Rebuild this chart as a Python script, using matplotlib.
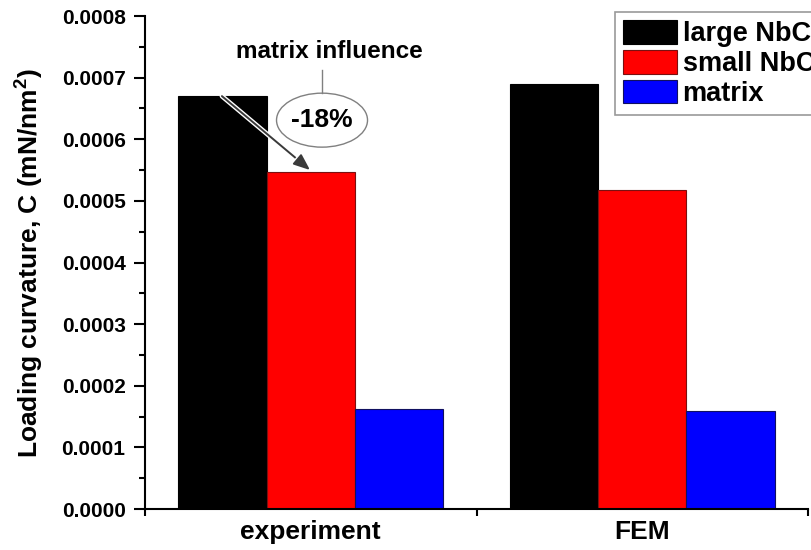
import matplotlib
matplotlib.use("Agg")
import matplotlib.pyplot as plt
import matplotlib.patheffects as pe
from matplotlib.patches import Ellipse
import numpy as np

plt.rcParams['font.family'] = ['Liberation Sans', 'DejaVu Sans']
plt.rcParams['font.weight'] = 'bold'
plt.rcParams['mathtext.fontset'] = 'custom'
plt.rcParams['mathtext.rm'] = 'Liberation Sans:bold'
plt.rcParams['mathtext.bf'] = 'Liberation Sans:bold'

# Data
categories = ['experiment', 'FEM']
series_names = ['large NbC', 'small NbC', 'matrix']
large_nbc = [0.000670, 0.000690]
small_nbc = [0.000547, 0.000517]
matrix_vals = [0.000162, 0.000159]
y_ticks = [0.0000, 0.0001, 0.0002, 0.0003, 0.0004, 0.0005, 0.0006, 0.0007, 0.0008]
change_label = '-18%'

series = [large_nbc, small_nbc, matrix_vals]
faces = ['#000000', '#ff0000', '#0000ff']
edges = ['#000000', '#7a1010', '#101060']

fig = plt.figure(figsize=(8.11, 5.50), dpi=100)
ax = fig.add_axes([0.1788, 0.0745, 0.8175, 0.8964])

x = np.arange(1, len(categories) + 1)
width = 0.8 / 3
for i, (vals, fc, ec, name) in enumerate(zip(series, faces, edges, series_names)):
    ax.bar(x + (i - 1) * width, vals, width, color=fc, edgecolor=ec,
           linewidth=0.8, label=name, zorder=2)

ax.set_xlim(0.5, 2.5)
ax.set_ylim(0, 0.0008)

# Axes styling
for s in ['top', 'right']:
    ax.spines[s].set_visible(False)
for s in ['left', 'bottom']:
    ax.spines[s].set_linewidth(1.5)

ax.set_yticks(y_ticks)
ax.set_yticklabels([f'{v:.4f}' for v in y_ticks])
ax.yaxis.set_minor_locator(matplotlib.ticker.MultipleLocator(0.00005))
ax.tick_params(axis='y', which='major', direction='out', length=8, width=1.5,
               labelsize=15, pad=6)
ax.tick_params(axis='y', which='minor', direction='out', length=4, width=1.5)

ax.set_xticks(x)
ax.set_xticklabels(categories)
ax.set_xticks([0.5, 1.5, 2.5], minor=True)
ax.tick_params(axis='x', which='major', length=0, labelsize=19, pad=8)
ax.tick_params(axis='x', which='minor', direction='out', length=5, width=1.5)

ax.set_ylabel('Loading curvature, C (mN/nm$^\\mathbf{2}$)', fontsize=19,
              fontweight='bold')
ax.yaxis.set_label_coords(-0.151, 0.5)

# Legend (its frame runs past the right edge)
leg = ax.legend(loc='upper left', bbox_to_anchor=(0.709, 1.008), fontsize=19.5,
                frameon=True, fancybox=False, borderaxespad=0,
                handlelength=2.0, handleheight=0.96, handletextpad=0.19,
                labelspacing=0.1, borderpad=0.3)
leg.get_frame().set_edgecolor('#808080')
leg.get_frame().set_linewidth(1.2)
for t in leg.get_texts():
    t.set_fontweight('bold')

# Annotation: drop from large to small NbC in the experiment
arrow_start = (0.732, large_nbc[0])
arrow_end = (0.998, small_nbc[0] + 0.000003)
ax.annotate('', xy=arrow_end, xytext=arrow_start,
            arrowprops=dict(arrowstyle='-|>,head_length=1.0,head_width=0.4',
                            color='#3a3a3a', lw=1.4, shrinkA=0, shrinkB=0,
                            path_effects=[pe.Stroke(linewidth=3.4, foreground='white'),
                                          pe.Normal()]),
            zorder=4)

ell_x, ell_y = 1.034, 0.000631
ell = Ellipse((ell_x, ell_y), 0.2745, 0.0000876, facecolor='white',
              edgecolor='#808080', linewidth=1.0, zorder=3)
ax.add_patch(ell)
ax.text(ell_x, ell_y, change_label, ha='center', va='center', fontsize=19,
        fontweight='bold', zorder=4)
ax.plot([ell_x, ell_x], [ell_y + 0.0000438, 0.000712], color='#808080',
        lw=1.0, zorder=3)
ax.text(1.055, 0.000742, 'matrix influence', ha='center', va='center',
        fontsize=17.5, fontweight='bold', zorder=4)

fig.savefig('out.png', dpi=100)
